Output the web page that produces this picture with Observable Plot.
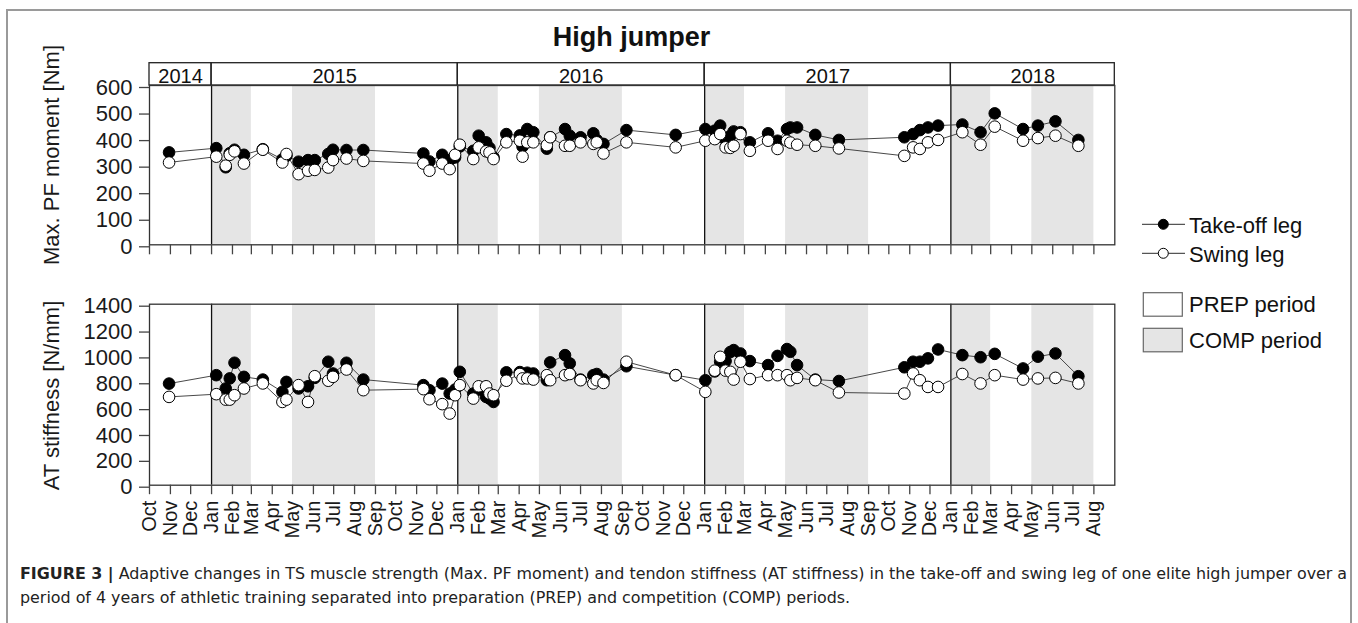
<!DOCTYPE html>
<html>
<head>
<meta charset="utf-8">
<script src="https://cdn.jsdelivr.net/npm/d3@7"></script>
<script src="https://cdn.jsdelivr.net/npm/@observablehq/plot@0.6"></script>
<style>
html,body{margin:0;padding:0;background:#fff;overflow:hidden;}
#fig{position:relative;width:1358px;height:623px;font-family:"Liberation Sans",Arial,Helvetica,sans-serif;color:#111;}
#border{position:absolute;left:6px;top:9px;width:1346px;height:700px;border:2px solid #9a9a9a;box-sizing:border-box;}
.layer{position:absolute;left:0;}
.layer svg{overflow:visible;}
#caption{position:absolute;left:20px;top:562px;font-size:16px;line-height:24px;color:#222;white-space:nowrap;font-family:"Liberation Sans Narrow","DejaVu Sans Condensed","Liberation Sans",Arial,sans-serif;}
#caption div{transform-origin:0 50%;}
</style>
</head>
<body>
<div id="fig">
  <div id="border"></div>
  <div id="strip" class="layer" style="top:60px"></div>
  <div id="topPanel" class="layer" style="top:55px"></div>
  <div id="bottomPanel" class="layer" style="top:295px"></div>
  <div id="overlay" class="layer" style="top:0"></div>
  <div id="caption">
    <div id="cap1"><b>FIGURE 3 |</b> Adaptive changes in TS muscle strength (Max. PF moment) and tendon stiffness (AT stiffness) in the take-off and swing leg of one elite high jumper over a</div>
    <div id="cap2">period of 4 years of athletic training separated into preparation (PREP) and competition (COMP) periods.</div>
  </div>
</div>
<script>
// ---------------- data ----------------
const dates = ["2014-10-30",
  "2015-01-08","2015-01-22","2015-01-28","2015-02-04","2015-02-18","2015-03-18","2015-04-16","2015-04-22","2015-05-10","2015-05-24",
  "2015-06-03","2015-06-23","2015-06-30","2015-07-20","2015-08-14","2015-11-11","2015-11-20","2015-12-09","2015-12-20","2015-12-28",
  "2016-01-04","2016-01-24","2016-02-01","2016-02-12","2016-02-17","2016-02-23","2016-03-13","2016-04-02","2016-04-06","2016-04-13",
  "2016-04-22","2016-05-12","2016-05-17","2016-06-08","2016-06-15","2016-07-01","2016-07-20","2016-07-25","2016-08-04","2016-09-07","2016-11-19",
  "2017-01-02","2017-01-16","2017-01-24","2017-02-01","2017-02-08","2017-02-13","2017-02-23","2017-03-09","2017-04-05","2017-04-19",
  "2017-05-03","2017-05-08","2017-05-18","2017-06-14","2017-07-19","2017-10-24","2017-11-06","2017-11-16","2017-11-28","2017-12-13",
  "2018-01-18","2018-02-14","2018-03-07","2018-04-18","2018-05-10","2018-06-05","2018-07-09"];

const pfTakeoff = [348,
  364,292,345,358,339,360,322,335,313,319, 319,342,358,357,357,344,314,339,319,329,
  370,354,411,386,365,329,417,412,370,436, 424,362,405,436,411,405,420,395,380,432,414,
  436,430,449,395,410,427,424,386,420,392, 436,442,442,414,395,405,417,432,442,449,
  453,424,495,436,449,465,395];

const pfSwing = [310,
  332,298,339,352,306,358,310,342,266,279, 282,291,319,325,316,306,279,306,285,339,
  377,323,367,352,348,323,386,392,332,386, 386,375,405,373,373,386,380,386,344,386,367,
  392,398,417,367,365,373,417,354,392,361, 392,385,377,373,363,335,367,361,386,395,
  424,377,445,392,402,411,373];

const atTakeoff = [786,
  851,748,826,947,838,817,722,799,748,765, 830,955,864,947,817,774,735,786,709,740,
  877,709,740,683,670,644,873,875,840,870, 864,812,950,1006,942,817,851,860,817,920,851,
  812,880,955,960,1030,1045,1019,960,929,1000, 1053,1032,929,817,806,912,955,955,981,1050,
  1006,990,1016,903,994,1019,843];

const atSwing = [683,
  704,662,662,696,748,787,644,662,774,644, 843,808,838,895,735,743,665,627,554,696,
  774,670,765,765,709,696,808,860,826,826, 817,851,812,851,860,812,787,812,791,955,851,
  722,886,993,886,877,817,955,821,851,851, 851,812,830,812,717,709,864,812,760,760,
  860,787,851,817,826,830,787];

const yearLabels = ["2014","2015","2016","2017","2018"];
const yearStarts = ["2014-10-01","2015-01-01","2016-01-01","2017-01-01","2018-01-01"];
const yearEnds   = ["2015-01-01","2016-01-01","2017-01-01","2018-01-01","2018-09-01"];
const compStarts = ["2015-01-01","2015-05-01","2016-01-01","2016-05-01","2017-01-01","2017-05-01","2018-01-01","2018-05-01"];
const compEnds   = ["2015-03-01","2015-09-01","2016-03-01","2016-09-01","2017-03-01","2017-09-01","2018-03-01","2018-08-01"];
const pfTicks = [0,100,200,300,400,500,600];
const atTicks = [0,200,400,600,800,1000,1200,1400];
const monthFirst = "2014-10-01", monthLast = "2018-08-01";
const seriesNames = ["Take-off leg","Swing leg"];
const periodNames = ["PREP period","COMP period"];

// ---------------- build ----------------
const P = s => new Date(s + "T00:00:00Z");
const rows = dates.map((d,i) => ({date:P(d), pfB:pfTakeoff[i], pfW:pfSwing[i], atB:atTakeoff[i], atW:atSwing[i]}));
const years = yearLabels.map((l,i) => ({label:l, start:P(yearStarts[i]), end:P(yearEnds[i]),
  mid:new Date((+P(yearStarts[i]) + +P(yearEnds[i]))/2)}));
const comp = compStarts.map((s,i) => ({x1:P(s), x2:P(compEnds[i])}));
const yearLines = yearStarts.slice(1).map(P);
const months = d3.utcMonth.range(P(monthFirst), d3.utcDay.offset(P(monthLast),1));

const W = 1358, ML = 149, MR = W - 1114.3;
const xScale = {type:"utc", domain:[P(yearStarts[0]), P(yearEnds[yearEnds.length-1])]};
const FONT = "'Liberation Sans', Arial, Helvetica, sans-serif";
const GREY = "#e5e5e5";

function panel(key, domain, ticks, height, mt, mb, bottomLabels) {
  const marks = [
    Plot.rect(comp, {x1:"x1", x2:"x2", y1:domain[0], y2:domain[1], fill:GREY}),
    Plot.ruleX(yearLines, {y1:domain[0], y2:domain[1], stroke:"#111", strokeWidth:1.3}),
    Plot.frame({stroke:"#333", strokeWidth:1.3}),
    Plot.axisY({ticks, tickSize:10, tickPadding:7, fontSize:22, dy:2, tickFormat:d3.format("d"), stroke:"#444", strokeWidth:1.3}),
    bottomLabels
      ? Plot.axisX({ticks:months, tickSize:9.5, tickPadding:6, tickRotate:-90, fontSize:20, tickFormat:d3.utcFormat("%b"), stroke:"#444", strokeWidth:1.3})
      : Plot.axisX({ticks:months, tickSize:10, tickFormat:() => "", stroke:"#444", strokeWidth:1.3}),
    Plot.line(rows, {x:"date", y:key+"B", stroke:"#333", strokeWidth:0.9}),
    Plot.line(rows, {x:"date", y:key+"W", stroke:"#333", strokeWidth:0.9}),
    Plot.dot(rows, {x:"date", y:key+"B", r:5.8, fill:"#000", stroke:"#000", strokeWidth:1}),
    Plot.dot(rows, {x:"date", y:key+"W", r:5.8, fill:"#fff", stroke:"#000", strokeWidth:1})
  ];
  return Plot.plot({
    width:W, height, marginLeft:ML, marginRight:MR, marginTop:mt, marginBottom:mb,
    style:{fontFamily:FONT, background:"transparent", color:"#1a1a1a", overflow:"visible"},
    x:xScale, y:{domain}, marks
  });
}

document.getElementById("topPanel").append(panel("pf", [0,600], pfTicks, 205, 30, 205-(244.3-55), false));
document.getElementById("bottomPanel").append(panel("at", [0,1400], atTicks, 250, 303.7-295, 250-(484.7-295), true));

document.getElementById("strip").append(Plot.plot({
  width:W, height:28, marginLeft:ML, marginRight:MR, marginTop:2.7, marginBottom:3,
  style:{fontFamily:FONT, background:"transparent", color:"#111", overflow:"visible"},
  x:{...xScale, axis:null}, y:{domain:[0,1], axis:null},
  marks:[
    Plot.rect(years, {x1:"start", x2:"end", y1:0, y2:1, fill:"none", stroke:"#222", strokeWidth:1.3}),
    Plot.text(years, {x:"mid", y:0.5, text:"label", fontSize:20, dy:2, fill:"#111"})
  ]
}));

// ---------------- overlay: title, axis titles, legends ----------------
const svg = d3.select("#overlay").append("svg").attr("width", W).attr("height", 623)
  .style("font-family", FONT).style("overflow","visible");
svg.append("text").attr("x", 631.5).attr("y", 46).attr("text-anchor","middle")
  .attr("font-size", 27).attr("font-weight","bold").attr("fill","#111").text("High jumper");
svg.append("text").attr("transform","translate(59,155) rotate(-90)").attr("text-anchor","middle")
  .attr("font-size",22).attr("fill","#1a1a1a").text("Max. PF moment [Nm]");
svg.append("text").attr("transform","translate(59,395.5) rotate(-90)").attr("text-anchor","middle")
  .attr("font-size",22).attr("fill","#1a1a1a").text("AT stiffness [N/mm]");

const leg = [{name:seriesNames[0], y:224.3, fill:"#000"}, {name:seriesNames[1], y:253.3, fill:"#fff"}];
leg.forEach(l => {
  svg.append("line").attr("x1",1142).attr("x2",1185).attr("y1",l.y).attr("y2",l.y).attr("stroke","#555").attr("stroke-width",1.2);
  svg.append("circle").attr("cx",1163.3).attr("cy",l.y).attr("r",5).attr("fill",l.fill).attr("stroke","#000");
  svg.append("text").attr("x",1189).attr("y",l.y+8.5).attr("font-size",22).attr("fill","#111").text(l.name);
});
const pleg = [{name:periodNames[0], y:292.7, fill:"#fff"}, {name:periodNames[1], y:328.3, fill:GREY}];
pleg.forEach(l => {
  svg.append("rect").attr("x",1143.3).attr("y",l.y).attr("width",39).attr("height",23.5)
    .attr("fill",l.fill).attr("stroke","#666").attr("stroke-width",1.2);
  svg.append("text").attr("x",1189).attr("y",l.y+19.5).attr("font-size",22).attr("fill","#111").text(l.name);
});

// caption: fit line 1 to the figure width
const c1 = document.getElementById("cap1"), c2 = document.getElementById("cap2");
const w1 = c1.scrollWidth;
const k = 1327 / w1;
c1.style.transform = `scaleX(${k})`;
c2.style.transform = `scaleX(${k})`;
</script>
</body>
</html>
